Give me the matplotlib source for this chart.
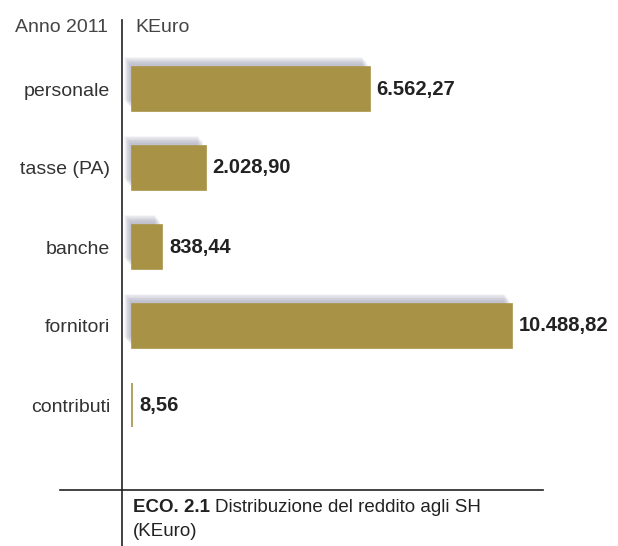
import matplotlib
matplotlib.use("Agg")
import matplotlib.pyplot as plt
import matplotlib.patheffects as pe
from matplotlib.lines import Line2D

plt.rcParams['font.family'] = ['Liberation Sans', 'DejaVu Sans']

categories = ["personale", "tasse (PA)", "banche", "fornitori", "contributi"]
values = [6562.27, 2028.90, 838.44, 10488.82, 8.56]
year_label = "Anno 2011"
unit_label = "KEuro"
caption_bold = "ECO. 2.1"
caption_text = "Distribuzione del reddito agli SH"
caption_line2 = "(KEuro)"

W, H = 618, 546
DPI = 100
BAR_COLOR = "#a89246"


def it_format(v):
    s = f"{v:,.2f}"
    return s.replace(",", "X").replace(".", ",").replace("X", ".")


fig = plt.figure(figsize=(W / DPI, H / DPI), dpi=DPI)
fig.patch.set_facecolor("white")

# axes: left spine is the vertical rule, runs from the header to the bottom edge
ax_left, ax_top, ax_bottom = 122, 20, 546
ax = fig.add_axes([ax_left / W, 1 - ax_bottom / H, 1 - ax_left / W, (ax_bottom - ax_top) / H])

px_per_unit = (512 - 132) / values[3]
x0 = -(132 - ax_left) / px_per_unit
x1 = (W - 132) / px_per_unit
ax.set_xlim(x0, x1)

row_px = 79.0
first_center = 89
ylo = -(first_center - ax_top) / row_px
yhi = (len(categories) - 1) + (ax_bottom - (first_center + row_px * (len(categories) - 1))) / row_px
ax.set_ylim(yhi, ylo)

# soft shadow made of stacked translucent offsets
shadow = []
for k in range(10):
    f = k / 9.0
    shadow.append(pe.SimplePatchShadow(offset=(-5.5 + 4.0 * f, 7.5 - 5.0 * f),
                                       shadow_rgbFace="#80829a", alpha=0.06))
shadow.append(pe.Normal())

ypos = list(range(len(categories)))
bars = ax.barh(ypos, values, height=0.55, color=BAR_COLOR, edgecolor=BAR_COLOR,
               linewidth=1.2, zorder=3)
for b, v in zip(bars, values):
    if v > 100:
        b.set_path_effects(shadow)

for y, v in zip(ypos, values):
    ax.annotate(it_format(v), xy=(v, y), xytext=(5, 0), textcoords="offset points",
                ha="left", va="center", fontsize=14.5, fontweight="bold", color="#222222")

for s in ["top", "right", "bottom"]:
    ax.spines[s].set_visible(False)
ax.spines["left"].set_position(("data", x0))
ax.spines["left"].set_color("#222222")
ax.spines["left"].set_linewidth(1.2)
ax.set_xticks([])
ax.set_yticks(ypos)
ax.set_yticklabels(categories, fontsize=14, color="#333333")
ax.tick_params(axis="y", length=0, pad=8.5)
ax.patch.set_alpha(0)

# header
fig.text(108 / W, 1 - 28 / H, year_label, ha="right", va="center", fontsize=14, color="#444444")
fig.text(135 / W, 1 - 28 / H, unit_label, ha="left", va="center", fontsize=14, color="#444444")

# rule above the caption
fig.add_artist(Line2D([60 / W, 543 / W], [1 - 490 / H, 1 - 490 / H], color="#222222", lw=1.2))

# caption
t = fig.text(133 / W, 1 - 508 / H, caption_bold, ha="left", va="center",
             fontsize=13.5, fontweight="bold", color="#222222")
fig.canvas.draw()
bb = t.get_window_extent()
fig.text((bb.x1 + 5) / W, 1 - 508 / H, caption_text, ha="left", va="center",
         fontsize=13.5, color="#222222")
fig.text(133 / W, 1 - 531 / H, caption_line2, ha="left", va="center",
         fontsize=13.5, color="#222222")

fig.savefig("out.png", dpi=DPI)
